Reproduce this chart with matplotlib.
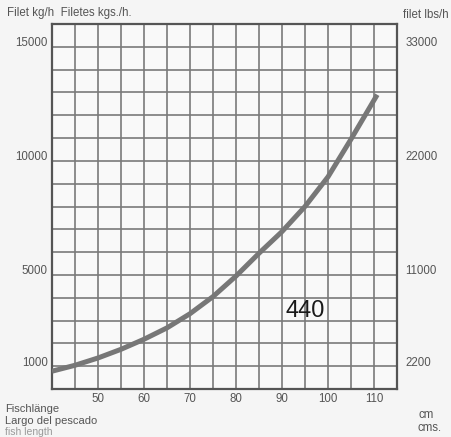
import matplotlib
matplotlib.use("Agg")
import matplotlib.pyplot as plt
from matplotlib.transforms import ScaledTranslation

# Data
length_cm = [40, 45, 50, 55, 60, 65, 70, 75, 80, 85, 90, 95, 100, 105, 110.7]
fillet_kg_h = [780, 1040, 1360, 1740, 2180, 2680, 3300, 4050, 4950, 5950, 6900, 8000, 9300, 10950, 12900]

x_ticks = [50, 60, 70, 80, 90, 100, 110]
y_ticks_kg = [1000, 5000, 10000, 15000]
y_labels_kg = ["1000", "5000", "10000", "15000"]
y_labels_lbs = ["2200", "11000", "22000", "33000"]
model_label = "440"

plt.rcParams['font.family'] = ['Liberation Sans', 'DejaVu Sans']

W, H = 452, 437
fig = plt.figure(figsize=(W / 100, H / 100), dpi=100, facecolor='#f5f5f5')
ax = fig.add_axes([52 / W, 1 - 389 / H, (397 - 52) / W, (389 - 24) / H])
ax.set_facecolor('#f9f9f9')

ax.set_xlim(40, 115)
ax.set_ylim(0, 16000)

# grid lines every 5 cm and every 1000 kg/h
for gx in range(45, 115, 5):
    ax.axvline(gx, color='#7a7a7a', linewidth=1.2, zorder=1)
for gy in range(1000, 16000, 1000):
    ax.axhline(gy, color='#7a7a7a', linewidth=1.2, zorder=1)
ax.tick_params(which='both', length=0)

for s in ax.spines.values():
    s.set_color('#555555')
    s.set_linewidth(1.6)

ax.plot(length_cm, fillet_kg_h, color='#777777', linewidth=3.6,
        solid_capstyle='butt', solid_joinstyle='round', zorder=3)

txtc = '#555555'
fs = 8.3
ax.set_xticks(x_ticks)
ax.set_xticklabels([str(v) for v in x_ticks], fontsize=fs, color=txtc)
ax.tick_params(axis='x', pad=3)
ax.set_yticks(y_ticks_kg)
ax.set_yticklabels(y_labels_kg, fontsize=fs, color=txtc)
ax.tick_params(axis='y', pad=3)
off = ScaledTranslation(0, 5 / 100, fig.dpi_scale_trans)
for lab in ax.get_yticklabels():
    lab.set_transform(lab.get_transform() + off)

ax2 = ax.twinx()
ax2.set_ylim(ax.get_ylim())
ax2.set_yticks(y_ticks_kg)
ax2.set_yticklabels(y_labels_lbs, fontsize=fs, color=txtc)
ax2.tick_params(axis='y', length=0, pad=6)
for lab in ax2.get_yticklabels():
    lab.set_transform(lab.get_transform() + off)
for s in ax2.spines.values():
    s.set_visible(False)

ax.text(95, 3400, model_label, fontsize=17, color='#1a1a1a', ha='center', va='center')

fig.text(7 / W, 1 - 13 / H, "Filet kg/h  Filetes kgs./h.", fontsize=fs, color=txtc, va='center', ha='left')
fig.text(449 / W, 1 - 15 / H, "filet lbs/h", fontsize=fs, color=txtc, va='center', ha='right')
fig.text(5 / W, 1 - 409 / H, "Fischlänge", fontsize=8, color=txtc, va='center', ha='left')
fig.text(5 / W, 1 - 421 / H, "Largo del pescado", fontsize=8, color=txtc, va='center', ha='left')
fig.text(5 / W, 1 - 432 / H, "fish length", fontsize=7.5, color='#9a9a9a', va='center', ha='left')
fig.text(419 / W, 1 - 415 / H, "cm", fontsize=fs, color=txtc, va='center', ha='left')
fig.text(418 / W, 1 - 428 / H, "cms.", fontsize=fs, color=txtc, va='center', ha='left')

fig.savefig("out.png", dpi=100, facecolor=fig.get_facecolor())
